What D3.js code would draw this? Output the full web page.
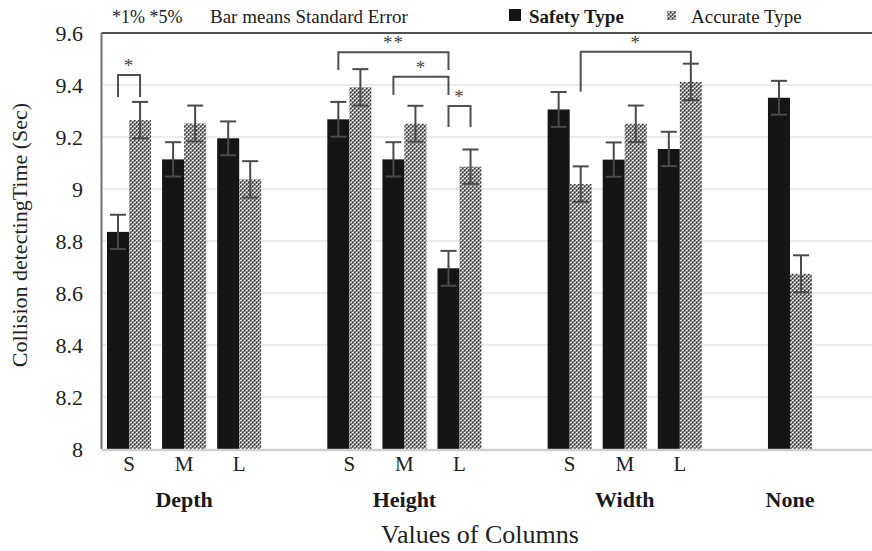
<!DOCTYPE html>
<html>
<head>
<meta charset="utf-8">
<script src="https://cdn.jsdelivr.net/npm/d3@7"></script>
<style>
  html, body { margin: 0; padding: 0; background: #fff; }
  svg, svg text { font-family: "Liberation Serif", "Times New Roman", Tinos, "DejaVu Serif", "Noto Serif", serif; }
</style>
</head>
<body>
<svg id="chart" width="872" height="551"></svg>
<script>
const FONT = '"Liberation Serif", "Times New Roman", Tinos, "DejaVu Serif", "Noto Serif", serif';

// Slots along the x axis (empty slots separate the groups)
const slots = ["Depth-S", "Depth-M", "Depth-L", "gap1",
               "Height-S", "Height-M", "Height-L", "gap2",
               "Width-S", "Width-M", "Width-L", "gap3",
               "None", "gap4"];
const subLabels = ["S", "M", "L", "", "S", "M", "L", "", "S", "M", "L", "", "", ""];
const groupNames = ["Depth", "Height", "Width", "None"];
const groupCenters = ["Depth-M", "Height-M", "Width-M", "None"];

const barSlots = ["Depth-S", "Depth-M", "Depth-L", "Height-S", "Height-M", "Height-L",
                  "Width-S", "Width-M", "Width-L", "None"];
const safetyMean = [8.835, 9.114, 9.195, 9.268, 9.114, 8.695, 9.306, 9.113, 9.154, 9.351];
const safetySE   = [0.066, 0.066, 0.065, 0.067, 0.066, 0.067, 0.067, 0.066, 0.066, 0.065];
const accurateMean = [9.265, 9.252, 9.037, 9.391, 9.251, 9.086, 9.019, 9.251, 9.412, 8.674];
const accurateSE   = [0.070, 0.069, 0.070, 0.070, 0.069, 0.066, 0.068, 0.070, 0.070, 0.071];

const seriesNames = ["Safety Type", "Accurate Type"];
const yTicks = [8, 8.2, 8.4, 8.6, 8.8, 9, 9.2, 9.4, 9.6];

// Significance brackets: endpoints (slot, series), bracket level and leg ends in seconds
const sigBrackets = [
  { a: ["Depth-S", 0], b: ["Depth-S", 1], top: 9.438, legA: 9.354, legB: 9.354, mark: "*" },
  { a: ["Height-S", 0], b: ["Height-L", 0], top: 9.526, legA: 9.458, legB: 9.458, mark: "**" },
  { a: ["Height-M", 0], b: ["Height-L", 0], top: 9.432, legA: 9.362, legB: 9.362, mark: "*" },
  { a: ["Height-L", 0], b: ["Height-L", 1], top: 9.319, legA: 9.238, legB: 9.238, mark: "*" },
  { a: ["Width-S", 1], b: ["Width-L", 1], top: 9.528, legA: 9.374, legB: 9.483, mark: "*" }
];

const svg = d3.select("#chart");
const plot = { left: 101.5, right: 872.6, top: 33, bottom: 449 };

const x = d3.scaleBand().domain(slots).range([plot.left, plot.right])
  .paddingInner(0.2).paddingOuter(0.1);
const xs = d3.scaleBand().domain([0, 1]).range([0, x.bandwidth()]);
const y = d3.scaleLinear().domain([8, 9.6]).range([plot.bottom, plot.top]);

const cx = (slot, s) => x(slot) + xs(s) + xs.bandwidth() / 2;

// Checkered fill for the second series
const defs = svg.append("defs");
const pat = defs.append("pattern").attr("id", "checker")
  .attr("patternUnits", "userSpaceOnUse").attr("width", 4).attr("height", 4);
const cells = [
  [0, 0, 4, 4, "#7a7a7a"],
  [0, 0, 1, 1, "#f2f2f2"], [2, 2, 1, 1, "#f2f2f2"],
  [1, 0, 1, 1, "#c8c8c8"], [3, 2, 1, 1, "#c8c8c8"],
  [2, 0, 1, 1, "#3a3a3a"], [0, 2, 1, 1, "#3a3a3a"],
  [1, 3, 1, 1, "#b0b0b0"], [3, 1, 1, 1, "#b0b0b0"]
];
pat.selectAll("rect").data(cells).join("rect")
  .attr("x", d => d[0]).attr("y", d => d[1])
  .attr("width", d => d[2]).attr("height", d => d[3]).attr("fill", d => d[4]);

const fills = ["#151515", "url(#checker)"];

// Gridlines
svg.append("g").selectAll("line").data(yTicks.filter(t => t > 8 && t < 9.6)).join("line")
  .attr("x1", plot.left).attr("x2", 872)
  .attr("y1", d => y(d)).attr("y2", d => y(d))
  .attr("stroke", "#d9d9d9").attr("stroke-width", 1.2);

// Y axis tick labels
const yAxis = d3.axisLeft(y).tickValues(yTicks).tickSize(0).tickPadding(0)
  .tickFormat(d => d3.format("~g")(d));
const gy = svg.append("g").attr("transform", "translate(83,0)").call(yAxis)
  .attr("font-family", FONT);
gy.select(".domain").remove();
gy.selectAll("text").attr("font-size", 22).attr("fill", "#222");

// Bars
const barData = [];
barSlots.forEach((slot, i) => {
  barData.push({ slot, s: 0, v: safetyMean[i], se: safetySE[i] });
  barData.push({ slot, s: 1, v: accurateMean[i], se: accurateSE[i] });
});
svg.append("g").selectAll("rect").data(barData).join("rect")
  .attr("x", d => x(d.slot) + xs(d.s))
  .attr("width", xs.bandwidth())
  .attr("y", d => y(d.v))
  .attr("height", d => y(8) - y(d.v))
  .attr("fill", d => fills[d.s]);

// Error bars
const eb = svg.append("g").attr("stroke", "#4a4a4a").attr("stroke-width", 2);
const capHalf = 8;
barData.forEach(d => {
  const c = cx(d.slot, d.s);
  eb.append("line").attr("x1", c).attr("x2", c).attr("y1", y(d.v + d.se)).attr("y2", y(d.v - d.se));
  eb.append("line").attr("x1", c - capHalf).attr("x2", c + capHalf).attr("y1", y(d.v + d.se)).attr("y2", y(d.v + d.se));
  eb.append("line").attr("x1", c - capHalf).attr("x2", c + capHalf).attr("y1", y(d.v - d.se)).attr("y2", y(d.v - d.se));
});

// Axis frame: left, top and bottom lines
svg.append("line").attr("x1", plot.left).attr("x2", plot.left)
  .attr("y1", y(9.6)).attr("y2", y(8)).attr("stroke", "#707070").attr("stroke-width", 2);
svg.append("line").attr("x1", plot.left).attr("x2", 872)
  .attr("y1", y(9.6)).attr("y2", y(9.6)).attr("stroke", "#505050").attr("stroke-width", 2);
svg.append("line").attr("x1", plot.left).attr("x2", 872)
  .attr("y1", y(8) + 1).attr("y2", y(8) + 1).attr("stroke", "#cfcfcf").attr("stroke-width", 2.5);

// Significance brackets
const br = svg.append("g");
sigBrackets.forEach(b => {
  const xa = cx(b.a[0], b.a[1]), xb = cx(b.b[0], b.b[1]);
  br.append("path")
    .attr("d", `M${xa},${y(b.legA)}V${y(b.top)}H${xb}V${y(b.legB)}`)
    .attr("fill", "none").attr("stroke", "#505050").attr("stroke-width", 2);
  br.append("text").attr("x", (xa + xb) / 2).attr("y", y(b.top) - 3)
    .attr("text-anchor", "middle").attr("font-size", 19).attr("fill", "#444")
    .attr("font-family", "DejaVu Sans, sans-serif").attr("letter-spacing", 1)
    .text(b.mark);
});

// Category labels
const xl = svg.append("g").attr("font-family", FONT);
slots.forEach((s, i) => {
  if (!subLabels[i]) return;
  xl.append("text").attr("x", x(s) + x.bandwidth() / 2).attr("y", 471)
    .attr("text-anchor", "middle").attr("font-size", 21).attr("fill", "#222")
    .text(subLabels[i]);
});
groupNames.forEach((g, i) => {
  xl.append("text").attr("x", x(groupCenters[i]) + x.bandwidth() / 2).attr("y", 507)
    .attr("text-anchor", "middle").attr("font-size", 22).attr("font-weight", "bold")
    .attr("fill", "#1a1a1a").text(g);
});

// Axis titles
svg.append("text").attr("x", 480).attr("y", 543).attr("text-anchor", "middle")
  .attr("font-family", FONT).attr("font-size", 26).attr("fill", "#222").text("Values of Columns");
svg.append("text").attr("transform", "translate(27,235) rotate(-90)")
  .attr("font-family", FONT).attr("text-anchor", "middle").attr("font-size", 22).attr("fill", "#222")
  .text("Collision detectingTime (Sec)");

// Header notes and legend
const hdr = svg.append("g").attr("font-family", FONT).attr("font-size", 19).attr("fill", "#222");
hdr.append("text").attr("x", 112).attr("y", 23).attr("font-size", 18).text("*1% *5%");
hdr.append("text").attr("x", 210).attr("y", 23).text("Bar means Standard Error");
const legendX = [509, 667];
const legendTextX = [529, 691];
seriesNames.forEach((n, i) => {
  hdr.append("rect").attr("x", legendX[i]).attr("y", i === 0 ? 9 : 11)
    .attr("width", i === 0 ? 12 : 9).attr("height", i === 0 ? 12 : 9).attr("fill", fills[i]);
  hdr.append("text").attr("x", legendTextX[i]).attr("y", 23)
    .attr("font-weight", i === 0 ? "bold" : "normal").attr("fill", "#1a1a1a").text(n);
});
</script>
</body>
</html>
